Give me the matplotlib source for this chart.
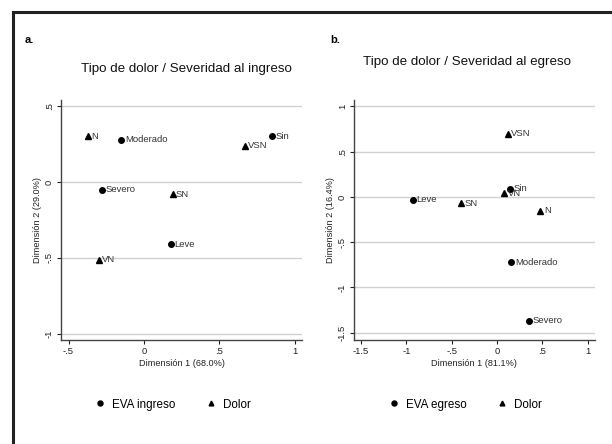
import numpy as np
import matplotlib
matplotlib.use('Agg')
import matplotlib.pyplot as plt
from matplotlib.lines import Line2D

plt.rcParams['font.family'] = ['Liberation Sans', 'DejaVu Sans']

# panel a: severidad al ingreso
eva_a_labels = ['Moderado', 'Sin', 'Severo', 'Leve']
eva_a_x = [-0.15, 0.85, -0.28, 0.18]
eva_a_y = [0.28, 0.30, -0.05, -0.41]
dol_a_labels = ['N', 'VSN', 'SN', 'VN']
dol_a_x = [-0.37, 0.67, 0.19, -0.30]
dol_a_y = [0.30, 0.24, -0.08, -0.51]

# panel b: severidad al egreso
eva_b_labels = ['Sin', 'Leve', 'Moderado', 'Severo']
eva_b_x = [0.14, -0.93, 0.16, 0.35]
eva_b_y = [0.09, -0.03, -0.72, -1.37]
dol_b_labels = ['VSN', 'VN', 'SN', 'N']
dol_b_x = [0.12, 0.08, -0.40, 0.48]
dol_b_y = [0.70, 0.04, -0.07, -0.15]

def fmt(v):
    s = ('%g' % v)
    return s.replace('0.', '.')

def panel(ax, ex, ey, el, dx, dy, dl, xt, yt, xlim, ylim, xlab, ylab, leg):
    for t in yt:
        ax.axhline(t, color='#d0d0d0', lw=1.0, zorder=0)
    ax.plot(ex, ey, 'o', color='black', ms=4, ls='none', label=leg)
    ax.plot(dx, dy, '^', color='black', ms=3.8, ls='none', label='Dolor')
    for x, y, s in zip(ex + dx, ey + dy, el + dl):
        ax.annotate(s, (x, y), xytext=(2.5, 0), textcoords='offset points',
                    va='center', ha='left', fontsize=6.8, color='#333333')
    ax.set_xlim(xlim)
    ax.set_ylim(ylim)
    ax.set_xticks(xt)
    ax.set_xticklabels([fmt(v) for v in xt])
    ax.set_yticks(yt)
    ax.set_yticklabels([fmt(v) for v in yt], rotation=90, va='center')
    ax.tick_params(labelsize=6.8, length=3, width=0.8, colors='#222222', pad=2)
    for s in ['top', 'right']:
        ax.spines[s].set_visible(False)
    for s in ['left', 'bottom']:
        ax.spines[s].set_color('#444444')
        ax.spines[s].set_linewidth(1.0)
    ax.set_xlabel(xlab, fontsize=6.6, labelpad=2.5, color='#222222')
    ax.set_ylabel(ylab, fontsize=6.6, labelpad=2, color='#222222')
    ax.legend(loc='upper center', bbox_to_anchor=(0.46, -0.2), ncol=2,
              frameon=False, fontsize=8.4, handletextpad=0.45, columnspacing=2.4,
              markerscale=0.9, handlelength=1.2)

fig = plt.figure(figsize=(6.12, 4.44), dpi=100)
ax1 = fig.add_axes([0.0997, 0.2342, 0.394, 0.5405])
ax2 = fig.add_axes([0.578, 0.2342, 0.394, 0.5405])

panel(ax1, eva_a_x, eva_a_y, eva_a_labels, dol_a_x, dol_a_y, dol_a_labels,
      [-0.5, 0, 0.5, 1], [-1, -0.5, 0, 0.5], (-0.55, 1.05), (-1.04, 0.54),
      'Dimensión 1 (68.0%)', 'Dimensión 2 (29.0%)', 'EVA ingreso')
panel(ax2, eva_b_x, eva_b_y, eva_b_labels, dol_b_x, dol_b_y, dol_b_labels,
      [-1.5, -1, -0.5, 0, 0.5, 1], [-1.5, -1, -0.5, 0, 0.5, 1], (-1.58, 1.08), (-1.58, 1.07),
      'Dimensión 1 (81.1%)', 'Dimensión 2 (16.4%)', 'EVA egreso')

fig.text(186/612, 1-69/444, 'Tipo de dolor / Severidad al ingreso', fontsize=9.6,
         ha='center', va='center', color='#111111')
fig.text(467/612, 1-62/444, 'Tipo de dolor / Severidad al egreso', fontsize=9.6,
         ha='center', va='center', color='#111111')
fig.text(25/612, 1-40/444, 'a.', fontsize=8, ha='left', va='center', fontweight='bold')
fig.text(330/612, 1-40/444, 'b.', fontsize=8, ha='left', va='center', fontweight='bold')

# frame lines (top and left)
fig.add_artist(Line2D([13/612, 1], [1-12/444, 1-12/444], color='#222222', lw=2.2))
fig.add_artist(Line2D([13/612, 13/612], [0, 1-12/444], color='#222222', lw=2.2))

fig.savefig('out.png', dpi=100)
